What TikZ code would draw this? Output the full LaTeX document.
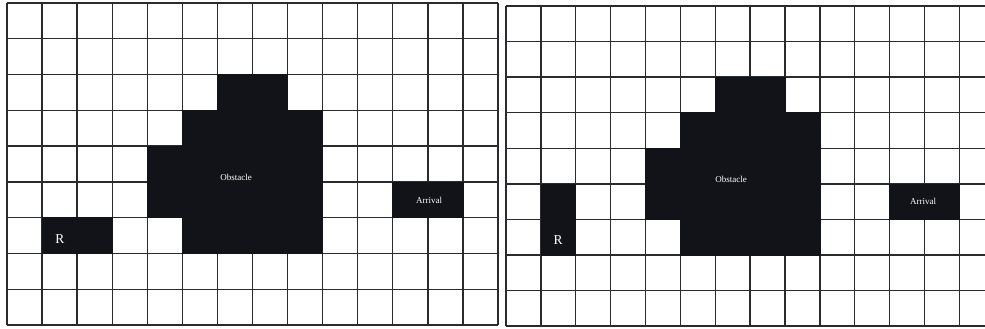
\documentclass[tikz,border=0pt]{standalone}
\usepackage{fontspec}
\setmainfont{Liberation Serif}
\definecolor{ink}{HTML}{111318}
\tikzset{
  cellfill/.style={fill=ink, draw=ink, line width=0.6pt},
  gridline/.style={draw=ink!90, line width=1.4pt},
  smalllabel/.style={text=white, font=\fontsize{9}{10}\selectfont, inner sep=0pt},
  biglabel/.style={text=white, font=\fontsize{13.5}{14}\selectfont, inner sep=0pt}
}
\begin{document}
\begin{tikzpicture}[x=1pt,y=-1pt]
\useasboundingbox (0,0) rectangle (985,329);
\fill[white] (0,0) rectangle (985,329);
\clip (0,0) rectangle (985,329);
% ---------- left grid ----------
\begin{scope}[shift={(7,3)}, x=35.07pt, y=-35.78pt]
  \foreach \i in {0,...,14} \draw[gridline] (\i,0) -- (\i,9);
  \foreach \j in {0,...,9} \draw[gridline] (0,\j) -- (14,\j);
  \foreach \c/\r in {6/2,7/2, 5/3,6/3,7/3,8/3, 4/4,5/4,6/4,7/4,8/4, 4/5,5/5,6/5,7/5,8/5, 5/6,6/6,7/6,8/6, 1/6,2/6, 11/5,12/5}
    \path[cellfill] (\c,\r) rectangle ++(1,1);
\end{scope}
% ---------- right grid ----------
\begin{scope}[shift={(506,6)}, x=34.87pt, y=-35.56pt]
  \foreach \i in {0,...,14} \draw[gridline] (\i,0) -- (\i,9);
  \foreach \j in {0,...,9} \draw[gridline] (0,\j) -- (14,\j);
  \foreach \c/\r in {6/2,7/2, 5/3,6/3,7/3,8/3, 4/4,5/4,6/4,7/4,8/4, 4/5,5/5,6/5,7/5,8/5, 5/6,6/6,7/6,8/6, 1/5,1/6, 11/5,12/5}
    \path[cellfill] (\c,\r) rectangle ++(1,1);
\end{scope}
% ---------- labels ----------
\node[smalllabel] (obsL) at (236,177) {Obstacle};
\node[smalllabel] (arrL) at (429,200) {Arrival};
\node[biglabel] (rL) at (60,239) {R};
\node[smalllabel] (obsR) at (731,179) {Obstacle};
\node[smalllabel] (arrR) at (923,201) {Arrival};
\node[biglabel] (rR) at (558,240) {R};
\end{tikzpicture}
\end{document}
